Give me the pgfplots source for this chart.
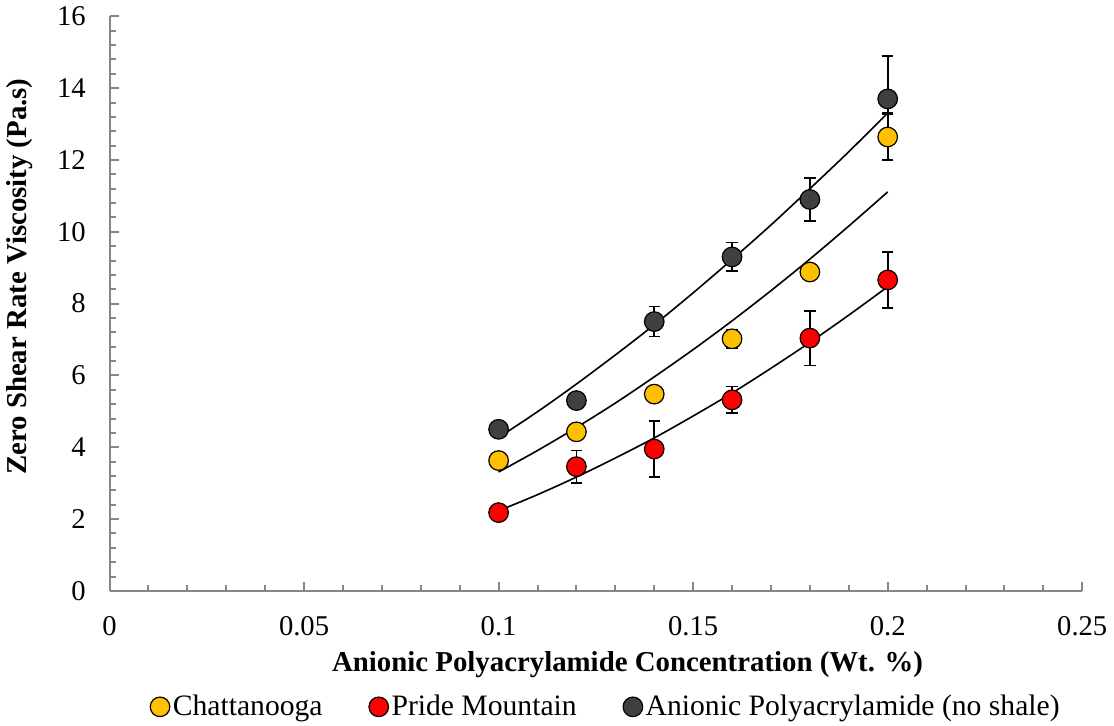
\documentclass[border=0pt]{standalone}
\usepackage{pgfplots}
\pgfplotsset{compat=1.18}
\usepackage{pgfplotstable}
\usepackage{fontspec}
\setmainfont{Liberation Serif}
\definecolor{axgray}{HTML}{868686}
\definecolor{cyellow}{HTML}{FFC000}
\definecolor{cred}{HTML}{FF0000}
\definecolor{cgrey}{HTML}{404040}

\pgfplotstableread{
x y e
0.10 3.63 0
0.12 4.43 0
0.14 5.48 0
0.16 7.02 0.26
0.18 8.88 0
0.20 12.64 0.64
}\chat
\pgfplotstableread{
x y e
0.10 2.18 0
0.12 3.46 0.45
0.14 3.95 0.78
0.16 5.32 0.37
0.18 7.04 0.76
0.20 8.66 0.78
}\pride
\pgfplotstableread{
x y ep em
0.10 4.50 0 0
0.12 5.30 0 0
0.14 7.50 0.42 0.42
0.16 9.30 0.40 0.40
0.18 10.90 0.60 0.60
0.20 13.70 1.20 0.40
}\apam
\pgfplotstableread{
x ya yc yp
0.10 4.27 3.31 2.23
0.11 4.99 3.91 2.68
0.12 5.76 4.55 3.17
0.13 6.57 5.23 3.70
0.14 7.41 5.96 4.26
0.15 8.30 6.72 4.87
0.16 9.23 7.52 5.51
0.17 10.19 8.36 6.20
0.18 11.20 9.24 6.92
0.19 12.23 10.16 7.68
0.20 13.31 11.11 8.47
}\trend

\begin{document}
\begin{tikzpicture}
\begin{axis}[
  scale only axis, width=482.5pt, height=285pt,
  xmin=0, xmax=0.25, ymin=0, ymax=16,
  axis x line*=bottom, axis y line*=left,
  axis line style={axgray, line width=1pt},
  xtick={0,0.05,0.1,0.15,0.2,0.25},
  xticklabels={0,0.05,0.1,0.15,0.2,0.25},
  ytick={0,2,4,6,8,10,12,14,16},
  minor x tick num=4, minor y tick num=4,
  tick align=inside,
  major tick length=4.5pt, minor tick length=3pt,
  every tick/.style={axgray, line width=1pt},
  /pgf/number format/assume math mode=true,
  ticklabel style={font=\fontsize{14.2}{16}\selectfont},
  xticklabel style={anchor=base, yshift=-22pt},
  yticklabel style={anchor=east, xshift=-8.3pt},
  xlabel={Anionic Polyacrylamide Concentration (Wt. \%)},
  ylabel={Zero Shear Rate Viscosity (Pa.s)},
  label style={font=\bfseries\fontsize{14.3}{16}\selectfont},
  xlabel style={at={(axis description cs:0.5326,-0.1404)}, anchor=base},
  ylabel style={at={(axis description cs:-0.0922,0.547)}, anchor=center, rotate=0},
  legend columns=3,
  legend style={draw=none, fill=none, at={(axis description cs:0.5109,-0.2018)}, anchor=center,
    font=\fontsize{14.7}{16}\selectfont, /tikz/every even column/.append style={column sep=21.5pt},
    nodes={inner sep=1.5pt}},
  legend image code/.code={\draw[#1] plot coordinates {(0pt,0pt)};},
  error bars/error bar style={black, line width=0.8pt},
  error bars/error mark options={rotate=90, mark size=2.8pt, line width=0.8pt, black},
]
\addplot[only marks, mark=*, mark size=4.85pt, mark options={fill=cyellow, draw=black, line width=0.6pt},
  error bars/.cd, y dir=both, y explicit]
  table[x=x, y=y, y error=e]{\chat};
\addlegendentry{Chattanooga}
\addplot[only marks, mark=*, mark size=4.85pt, mark options={fill=cred, draw=black, line width=0.6pt},
  error bars/.cd, y dir=both, y explicit]
  table[x=x, y=y, y error=e]{\pride};
\addlegendentry{Pride Mountain}
\addplot[only marks, mark=*, mark size=4.85pt, mark options={fill=cgrey, draw=black, line width=0.6pt},
  error bars/.cd, y dir=both, y explicit]
  table[x=x, y=y, y error plus=ep, y error minus=em]{\apam};
\addlegendentry{Anionic Polyacrylamide (no shale)}
\addplot[black, line width=0.8pt, smooth, no marks, forget plot] table[x=x, y=ya]{\trend};
\addplot[black, line width=0.8pt, smooth, no marks, forget plot] table[x=x, y=yc]{\trend};
\addplot[black, line width=0.8pt, smooth, no marks, forget plot] table[x=x, y=yp]{\trend};
\end{axis}
\end{tikzpicture}
\end{document}
